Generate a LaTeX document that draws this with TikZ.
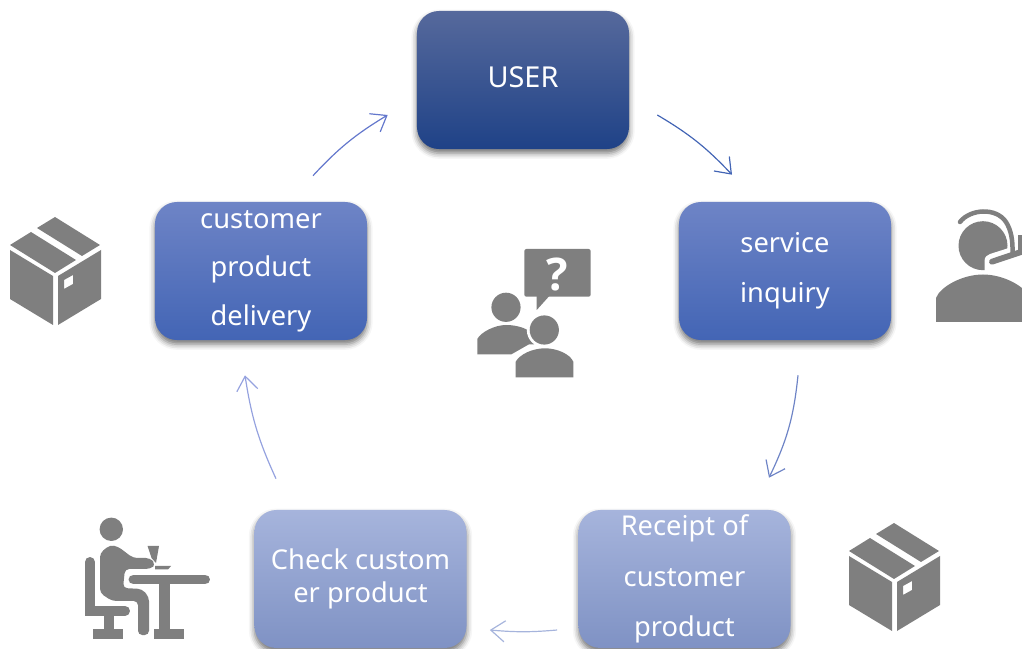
\documentclass[tikz,border=0pt]{standalone}
\usepackage{fontspec}
\setmainfont{Noto Sans}
\newfontfamily\questionfont{Open Sans}
\usepackage{tikz}
\usetikzlibrary{arrows.meta,shadows.blur}
\definecolor{icongray}{HTML}{7F7F7F}
\definecolor{topdark}{HTML}{56699C}
\definecolor{middark}{HTML}{2A4D90}
\definecolor{botdark}{HTML}{1F4287}
\definecolor{topmid}{HTML}{6E84C6}
\definecolor{midmid}{HTML}{4F73C0}
\definecolor{botmid}{HTML}{4365B5}
\definecolor{toplight}{HTML}{A6B4DC}
\definecolor{midlight}{HTML}{95A6D6}
\definecolor{botlight}{HTML}{7F92C4}
\tikzset{
  stepbox/.style={rounded corners=0.55cm, minimum width=5.3cm, minimum height=3.45cm,
    inner sep=0pt, align=center, text=white, font=\fontsize{19.4}{34.4}\selectfont,
    blur shadow={shadow xshift=0pt, shadow yshift=-3pt, shadow blur radius=4pt, shadow opacity=55}},
  darkbox/.style={stepbox, top color=topdark, middle color=middark, bottom color=botdark},
  midbox/.style={stepbox, top color=topmid, middle color=midmid, bottom color=botmid},
  lightbox/.style={stepbox, top color=toplight, middle color=midlight, bottom color=botlight},
  flow/.style={line width=0.85pt, -{Straight Barb[length=10pt, width=15pt]}},
  parcel/.pic={
    \fill[icongray] (0,0) -- (45,28) -- (27,39) -- (-18,11) -- cycle;
    \fill[icongray] (-24,15) -- (21,43) -- (0,56) -- (-45,28) -- cycle;
    \fill[icongray] (-45,33) -- (-2,59) -- (-2,108) -- (-45,82) -- cycle;
    \fill[icongray, even odd rule] (3,59) -- (46,33) -- (46,82) -- (3,108) -- cycle
      (9,63) -- (18,58) -- (18,67) -- (9,72) -- cycle;
  },
  agent/.pic={
    \fill[icongray] (983,245.7) circle (24.5);
    \fill[white] (984.5,274) -- (984.5,261) .. controls (984.5,257) and (987,255) .. (990,254)
      -- (1012,247) -- (1012,274) -- cycle;
    \fill[icongray] (936,322) -- (936,298) .. controls (940,287) and (962,274.5) .. (983,274.5)
      .. controls (1004,274.5) and (1026,287) .. (1030,298) -- (1030,322) -- cycle;
    \draw[icongray, line width=3.2pt, line cap=round] (960,222) .. controls (970,209) and (996,207) .. (1006,222)
      .. controls (1011,230) and (1013,240) .. (1012.5,254);
    \draw[icongray, line width=4.2pt, line cap=round] (992,261.7) -- (1030,249);
    \fill[icongray] (1018,235) rectangle (1030,253);
  },
  asking/.pic={
    \fill[icongray, rounded corners=1.5pt] (524.3,249) rectangle (590.7,296.7);
    \fill[icongray] (536.7,296) -- (536.7,310) -- (549.3,296) -- cycle;
    \fill[icongray] (506,307.3) circle (14.6);
    \fill[icongray] (477.3,354.3) -- (477.3,339) .. controls (481,332) and (495,325) .. (506,325)
      .. controls (518,325) and (530,329) .. (534,336) -- (534,354.3) -- cycle;
    \fill[white] (544.3,330) circle (17.5);
    \fill[white] (511.7,354.3) -- (529.3,344.3) -- (545,345) -- (578,360) -- (578,381) -- (511.7,381) -- cycle;
    \fill[icongray] (544.3,330) circle (14.6);
    \fill[icongray] (515.7,377.3) -- (515.7,361.7) .. controls (520,354) and (533,348.3) .. (545,348.3)
      .. controls (557,348.3) and (570,354) .. (573.3,361.7) -- (573.3,377.3) -- cycle;
  },
  seated/.pic={
    % head, chair, person, table
    \fill[icongray] (111.3,529.3) circle (11.7);
    \draw[icongray, line width=7.1pt, line cap=round] (90,562) -- (90,611) -- (125,611);
    \fill[icongray] (103.5,613) rectangle (113.5,632);
    \fill[icongray] (93,629) rectangle (123,639);
    \fill[icongray, rounded corners=3pt] (100,553) -- (110,545) -- (118,546.5) -- (133,558) -- (150,558)
      .. controls (154,562) and (154,566) .. (150,569) -- (125,569) -- (123,588) -- (142,589)
      -- (149,597) -- (149,635) -- (138,635) -- (138,601) -- (112,601) -- (100,593) -- cycle;
    \fill[icongray] (147.5,546) -- (159,546) -- (156,563) -- (151.5,558) -- cycle;
    \fill[icongray] (155,566) -- (171,566) -- (168,569.5) -- (155,569.5) -- cycle;
    \draw[icongray, line width=7.1pt, line cap=round] (133.5,579.5) -- (205,579.5);
    \fill[icongray] (159,583) rectangle (170,632);
    \fill[icongray] (154,629) rectangle (184,639);
  }
}
\begin{document}
\begin{tikzpicture}[x=0.025cm, y=-0.025cm]
  \useasboundingbox (0,0) rectangle (1022,649);

  \pic (agenticon) at (0,0) {agent};
  \pic (askingicon) at (0,0) {asking};
  \pic (seatedicon) at (0,0) {seated};
  \pic (parcelleft) at (55,217) {parcel};
  \pic (parcelright) at (894,523) {parcel};
  \node[white, font=\questionfont\bfseries\fontsize{32}{32}\selectfont] (question) at (557.5,274.5) {?};

  \node[darkbox, font=\fontsize{20.5}{34}\selectfont] (user) at (523,80) {\raisebox{4.2pt}{USER}};
  \node[midbox] (service) at (785,271) {service\\[1.4pt]inquiry};
  \node[midbox] (delivery) at (261,271) {customer\\product\\delivery};
  \node[lightbox, font=\fontsize{19.4}{24}\selectfont] (check) at (360.5,579) {Check custom\\er product};
  \node[lightbox, font=\fontsize{19.4}{36}\selectfont] (receipt) at (684.5,579) {Receipt of\\customer\\product};

  \draw[flow, color=botmid] ([shift={(28,35)}]user.east) to[bend left=8] ([shift={(-53,-27)}]service.north);
  \draw[flow, color=topmid] ([shift={(13,35)}]service.south) to[bend left=10] ([shift={(84.5,-32)}]receipt.north);
  \draw[flow, color=toplight] ([shift={(-21,51)}]receipt.west) to[bend left=5] ([shift={(23,51)}]check.east);
  \draw[flow, color=toplight!90!blue] ([shift={(-84.5,-31)}]check.north) to[bend left=8] ([shift={(-16,35)}]delivery.south);
  \draw[flow, color=topmid!90!blue] ([shift={(52,-26)}]delivery.north) to[bend left=8] ([shift={(-29,35)}]user.west);
\end{tikzpicture}
\end{document}
